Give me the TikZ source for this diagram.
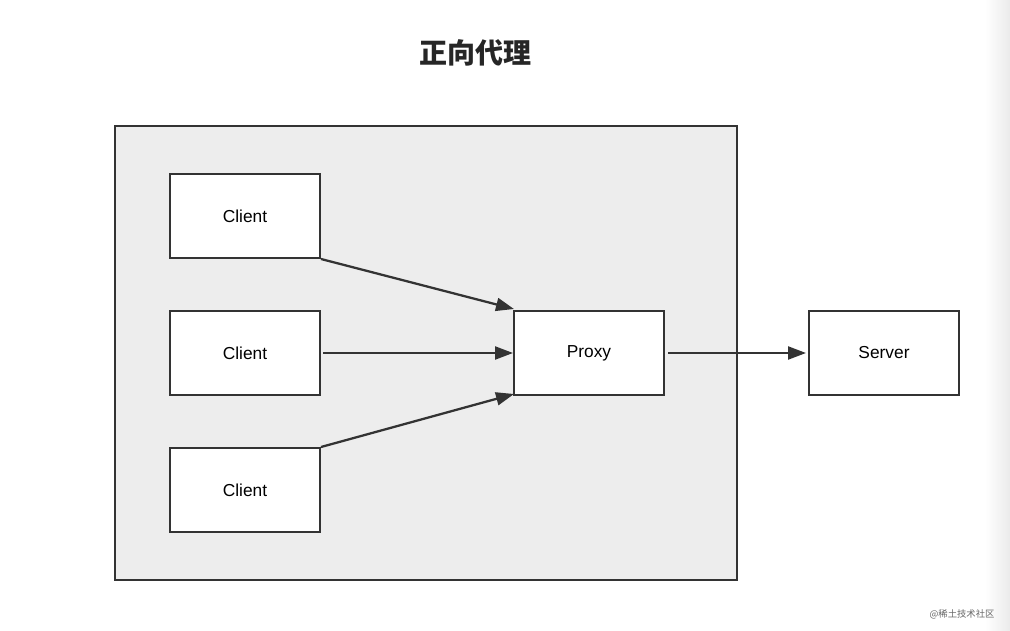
\documentclass[tikz,border=0pt]{standalone}
\usepackage{fontspec}
\setmainfont{Liberation Sans}
\newfontfamily\cjk{Noto Sans CJK SC}
\usetikzlibrary{arrows.meta}
\begin{document}
\begin{tikzpicture}[x=0.75pt,y=-0.75pt,
  box/.style={draw=black!80,line width=1.5pt,fill=white,minimum width=150*0.75pt,minimum height=84*0.75pt,inner sep=0pt,font=\fontsize{13}{15}\selectfont},
  arr/.style={draw=black!80,line width=1.7pt,-{Triangle[length=18*0.75pt,width=13*0.75pt]}}]
\useasboundingbox (0,0) rectangle (1010,631);
\fill[white] (0,0) rectangle (1010,631);
\shade[left color=white,right color=black!8] (985,0) rectangle (1010,631);
\node[text=black!85] (title) at (475,53) {\cjk\bfseries\fontsize{21}{25}\selectfont 正向代理};
\draw[draw=black!80,line width=1.5pt,fill=black!7] (115,126) rectangle (737,580);
\node[box] (c1) at (245,216) {Client};
\node[box] (c2) at (245,353) {Client};
\node[box] (c3) at (245,490) {Client};
\node[box] (p) at (589,353) {Proxy};
\node[box] (s) at (884,353) {Server};
\coordinate (a1) at (514,309);
\coordinate (a3) at (514,394);
\draw[arr] (c1.south east) -- (a1);
\draw[arr] ([xshift=2*0.75pt]c2.east) -- (p.west);
\draw[arr] (c3.north east) -- (a3);
\draw[arr] ([xshift=3*0.75pt]p.east) -- ([xshift=-2*0.75pt]s.west);
\node[text=black!60,font=\cjk\fontsize{7}{8}\selectfont] (wm) at (962,614) {@稀土技术社区};
\end{tikzpicture}
\end{document}
